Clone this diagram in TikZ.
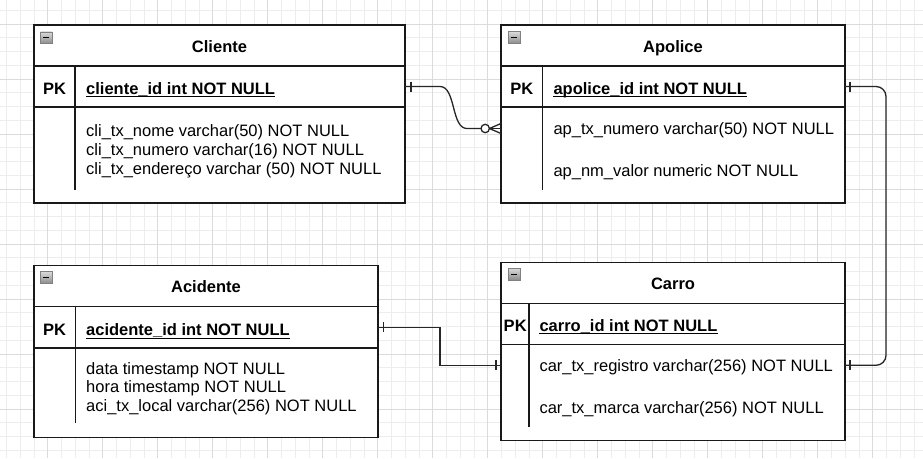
\documentclass[tikz,border=0pt]{standalone}
\usepackage{fontspec}
\setmainfont{Liberation Sans}
\begin{document}
\begin{tikzpicture}[x=1pt,y=-1pt,
  gminor/.style={draw=black!7,line width=0.9pt},
  gmajor/.style={draw=black!14,line width=0.9pt},
  tbl/.style={draw=black!90,fill=white,line width=1.3pt,inner sep=0,outer sep=0,rectangle},
  rowbox/.style={draw=black!90,line width=1.3pt,inner sep=0,outer sep=0,rectangle},
  rowfree/.style={inner sep=0,outer sep=0,rectangle},
  tline/.style={draw=black!90,line width=1.3pt},
  ttl/.style={inner sep=0,anchor=base,font=\fontsize{16.5}{19}\selectfont\bfseries},
  pkl/.style={inner sep=0,anchor=base,font=\fontsize{16.5}{19}\selectfont\bfseries},
  pkt/.style={inner sep=0,anchor=base west,font=\fontsize{16.5}{19}\selectfont\bfseries},
  att/.style={inner sep=0,anchor=base west,font=\fontsize{16.5}{19}\selectfont},
  uline/.style={draw=black,line width=1pt},
  minusicon/.style={draw=black!50,line width=0.8pt,top color=black!15,bottom color=black!45,
     minimum size=11.5pt,inner sep=0,rectangle,
     path picture={\draw[black,line width=1.2pt]
        ([xshift=2.6pt]path picture bounding box.west) -- ([xshift=-2.6pt]path picture bounding box.east);}},
  conn/.style={draw=black!85,line width=1.3pt},
]
\useasboundingbox (0,0) rectangle (923,458);
\fill[white] (0,0) rectangle (923,458);
% grid
\foreach \k in {0,...,66} {\draw[gminor] ({6.45+\k*13.75},0) -- ++(0,458);}
\foreach \k in {0,...,32} {\draw[gminor] (0,{10.25+\k*13.75}) -- ++(923,0);}
\foreach \k in {3,7,...,63} {\draw[gmajor] ({6.45+\k*13.75},0) -- ++(0,458);}
\foreach \k in {1,5,...,29} {\draw[gmajor] (0,{10.25+\k*13.75}) -- ++(923,0);}

% ---------- Cliente ----------
\node[tbl,minimum width=371pt,minimum height=178pt] (cli) at (219.5,114) {};
\node[rowbox,minimum width=371pt,minimum height=41pt] (clipk) at (219.5,86.5) {};
\draw[tline] (75,66) -- (75,190);
\node[minusicon] (cliicon) at (46.3,37.7) {};
\node[ttl] (clititle) at (219.5,52) {Cliente};
\node[pkl] (clipkl) at (54.5,94) {PK};
\node[pkt] (clipkt) at (86,94) {cliente\_id int NOT NULL};
\draw[uline] ([yshift=-2.7pt]clipkt.base west) -- ([yshift=-2.7pt]clipkt.base east);
\node[att] (clia1) at (86,136.7) {cli\_tx\_nome varchar(50) NOT NULL};
\node[att] (clia2) at (86,155.7) {cli\_tx\_numero varchar(16) NOT NULL};
\node[att] (clia3) at (86,174.7) {cli\_tx\_endereço varchar (50) NOT NULL};

% ---------- Apolice ----------
\node[tbl,minimum width=344pt,minimum height=178pt] (apo) at (673,114) {};
\node[rowbox,minimum width=344pt,minimum height=41pt] (apopk) at (673,86.5) {};
\node[rowfree,minimum width=344pt,minimum height=41pt] (aponum) at (673,128.5) {};
\draw[tline] (542.7,66) -- (542.7,190);
\node[minusicon] (apoicon) at (514.2,37.6) {};
\node[ttl] (apotitle) at (673,52) {Apolice};
\node[pkl] (apopkl) at (521.9,94) {PK};
\node[pkt] (apopkt) at (553.3,94) {apolice\_id int NOT NULL};
\draw[uline] ([yshift=-2.7pt]apopkt.base west) -- ([yshift=-2.7pt]apopkt.base east);
\node[att] (apoa1) at (553.3,134.3) {ap\_tx\_numero varchar(50) NOT NULL};
\node[att] (apoa2) at (553.3,176.7) {ap\_nm\_valor numeric NOT NULL};

% ---------- Acidente ----------
\node[tbl,minimum width=344pt,minimum height=171.6pt] (aci) at (206,351.5) {};
\node[rowbox,minimum width=344pt,minimum height=41.3pt] (acipk) at (206,327.35) {};
\draw[tline,line width=2pt] (acipk.south west) -- (acipk.south east);
\draw[tline] (75.3,306.7) -- (75.3,423.3);
\node[minusicon] (aciicon) at (46.3,277.5) {};
\node[ttl] (acititle) at (206,292.7) {Acidente};
\node[pkl] (acipkl) at (54.5,335.3) {PK};
\node[pkt] (acipkt) at (86,335.3) {acidente\_id int NOT NULL};
\draw[uline] ([yshift=-2.7pt]acipkt.base west) -- ([yshift=-2.7pt]acipkt.base east);
\node[att] (acia1) at (86,374) {data timestamp NOT NULL};
\node[att] (acia2) at (86,392.7) {hora timestamp NOT NULL};
\node[att] (acia3) at (86,411.7) {aci\_tx\_local varchar(256) NOT NULL};

% ---------- Carro ----------
\node[tbl,minimum width=344pt,minimum height=178.4pt] (car) at (673,351.5) {};
\node[rowbox,minimum width=344pt,minimum height=41.4pt] (carpk) at (673,324) {};
\node[rowfree,minimum width=344pt,minimum height=41.3pt] (carreg) at (673,365.3) {};
\draw[tline,line width=2pt] (529.3,303.3) -- (529.3,426.7);
\node[minusicon] (caricon) at (514.2,274.2) {};
\node[ttl] (cartitle) at (673,289.3) {Carro};
\node[pkl] (carpkl) at (515.2,331) {PK};
\node[pkt] (carpkt) at (539.3,331) {carro\_id int NOT NULL};
\draw[uline] ([yshift=-2.7pt]carpkt.base west) -- ([yshift=-2.7pt]carpkt.base east);
\node[att] (cara1) at (539.3,371.3) {car\_tx\_registro varchar(256) NOT NULL};
\node[att] (cara2) at (539.3,413.3) {car\_tx\_marca varchar(256) NOT NULL};

% ---------- connectors ----------
% Cliente (one) -> Apolice (zero or many)
\coordinate (c1a) at (440,86.5);
\coordinate (c1b) at (467,128.5);
\coordinate (c1c) at (485.2,128.5);
\draw[conn] (clipk.east) -- (c1a) .. controls (456,86.5) and (451,128.5) .. (c1b) -- ([xshift=-4.2pt]c1c);
\draw[conn] ([xshift=6pt,yshift=5pt]clipk.east) -- ([xshift=6pt,yshift=-5pt]clipk.east);
\draw[conn,fill=white] (c1c) circle (4.2);
\draw[conn] ([xshift=4.2pt]c1c) -- (aponum.west);
\draw[conn] ([xshift=4.2pt]c1c) -- ([yshift=5pt]aponum.west);
\draw[conn] ([xshift=4.2pt]c1c) -- ([yshift=-5pt]aponum.west);

% Apolice (one) -> Carro (one)
\coordinate (c2) at (886,365.3);
\draw[conn,rounded corners=10pt] (apopk.east) -| (c2) -- (carreg.east);
\draw[conn] ([xshift=5pt,yshift=5pt]apopk.east) -- ([xshift=5pt,yshift=-5pt]apopk.east);
\draw[conn] ([xshift=5pt,yshift=5pt]carreg.east) -- ([xshift=5pt,yshift=-5pt]carreg.east);

% Acidente (one) -> Carro (one)
\coordinate (c3) at (440,327.35);
\draw[conn] (acipk.east) -- (c3) |- (carreg.west);
\draw[conn] ([xshift=5.5pt,yshift=5pt]acipk.east) -- ([xshift=5.5pt,yshift=-5pt]acipk.east);
\draw[conn] ([xshift=-5pt,yshift=5pt]carreg.west) -- ([xshift=-5pt,yshift=-5pt]carreg.west);
\end{tikzpicture}
\end{document}
